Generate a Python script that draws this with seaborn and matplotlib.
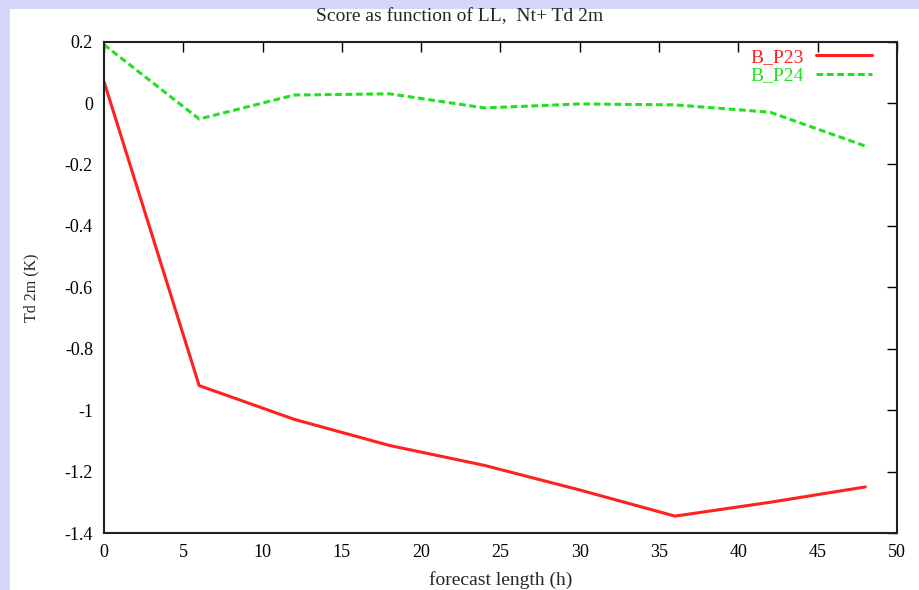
import matplotlib
matplotlib.use("Agg")
import matplotlib.pyplot as plt
import numpy as np
import pandas as pd
import seaborn as sns

# forecast length (h)
lead = [0, 6, 12, 18, 24, 30, 36, 42, 48]
# Td 2m scores (K)
b_p23 = [0.07, -0.92, -1.03, -1.115, -1.18, -1.26, -1.345, -1.30, -1.25]
b_p24 = [0.19, -0.052, 0.026, 0.03, -0.016, -0.003, -0.006, -0.03, -0.14]

x_ticks = [0, 5, 10, 15, 20, 25, 30, 35, 40, 45, 50]
y_ticks = [0.2, 0, -0.2, -0.4, -0.6, -0.8, -1, -1.2, -1.4]

df = pd.DataFrame({
    "lead": lead * 2,
    "score": b_p23 + b_p24,
    "exp": ["B_P23"] * len(lead) + ["B_P24"] * len(lead),
})

sns.set_style("white")
plt.rcParams["font.family"] = ["Liberation Serif", "DejaVu Serif"]

fig = plt.figure(figsize=(9.19, 5.90), dpi=100)
fig.patch.set_facecolor("#d6d6f8")
# white panel inside the lavender frame
fig.patches.append(plt.Rectangle((10 / 919, 0), 1, 1 - 9 / 590, transform=fig.transFigure,
                                 facecolor="white", edgecolor="none", zorder=-10))

ax = fig.add_axes([104 / 919, 1 - 533 / 590, (897 - 104) / 919, (533 - 41.6) / 590])
ax.set_facecolor("white")

palette = {"B_P23": "#ff2020", "B_P24": "#20e020"}
sns.lineplot(data=df, x="lead", y="score", hue="exp", palette=palette,
             style="exp", dashes={"B_P23": "", "B_P24": (2.2, 1.2)},
             linewidth=2.2, ax=ax)

ax.set_xlim(0, 50)
ax.set_ylim(-1.4, 0.2)
ax.set_xticks(x_ticks)
ax.set_xticklabels([str(v) for v in x_ticks])
ax.set_yticks(y_ticks)
ax.set_yticklabels(["0.2", "0", "-0.2", "-0.4", "-0.6", "-0.8", "-1", "-1.2", "-1.4"])
ax.tick_params(direction="in", length=7, width=1, top=True, right=True,
               labelsize=13, pad=8, colors="black")

for s in ax.spines.values():
    s.set_visible(True)
    s.set_color("#202020")
    s.set_linewidth(1.5)

ax.set_xlabel("forecast length (h)", fontsize=14, labelpad=7)
ax.set_ylabel("Td 2m (K)", fontsize=11.5, labelpad=18)
fig.text(0.5, 1 - 17 / 590, "Score as function of LL,  Nt+ Td 2m", ha="center", va="center",
         fontsize=14)

leg = ax.legend(loc="upper right", frameon=False, markerfirst=False, fontsize=14,
                labelcolor="linecolor", handlelength=2.9, borderaxespad=0.25,
                borderpad=0.1, labelspacing=0.05, handletextpad=0.6)
# keep the legend's right edge where the reference puts it
leg.set_bbox_to_anchor((1 - 18 / 793, 1), transform=ax.transAxes)

fig.savefig("out.png", dpi=100, facecolor=fig.get_facecolor())
